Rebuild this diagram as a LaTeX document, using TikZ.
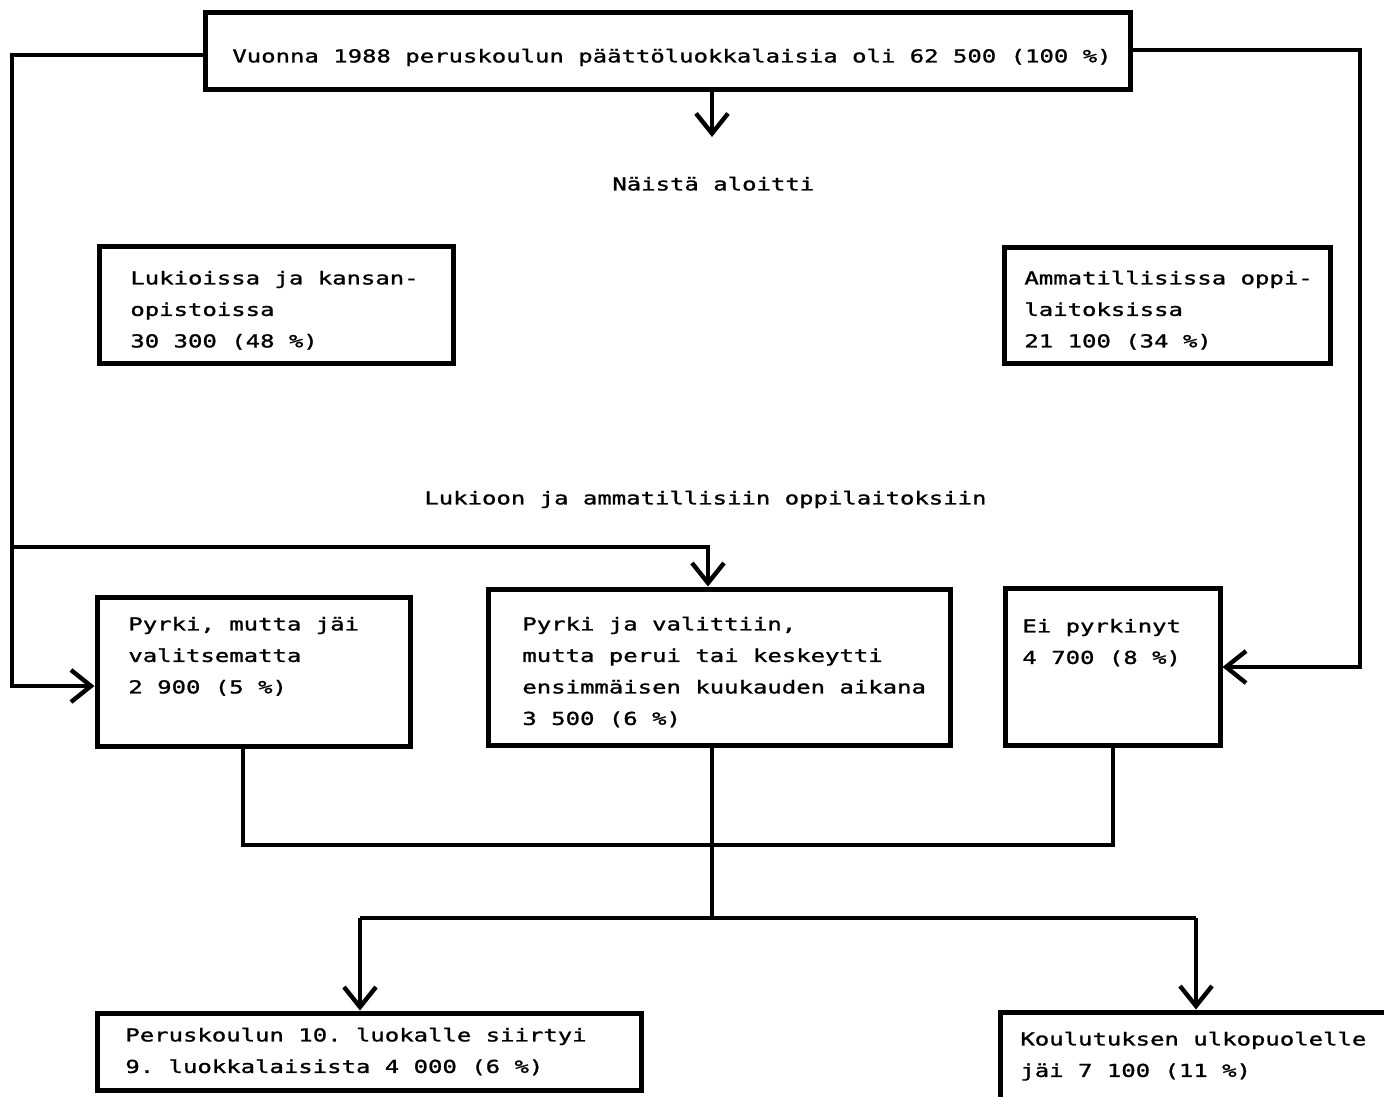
\documentclass[tikz,border=0pt]{standalone}
\usepackage{fontspec}
\usetikzlibrary{arrows.meta,fit,calc}
\newfontfamily\twfont{DejaVu Sans Mono}[FakeStretch=1.345,FakeBold=1.3]
\begin{document}
\frenchspacing
\begin{tikzpicture}[x=0.5pt,y=-0.5pt,
  boxn/.style={draw,line width=2.5pt,inner sep=0pt,rectangle},
  txt/.style={anchor=north west,inner sep=0pt,align=left,font=\twfont\frenchspacing\fontsize{8.9}{15.75}\selectfont},
  conn/.style={line width=2.2pt},
  arr/.style={-{Straight Barb[length=10pt,width=16pt]}}]
\useasboundingbox (0,0) rectangle (1384,1096);
\clip (0,0) rectangle (1384,1096);
\fill[white] (0,0) rectangle (1384,1096);
% boxes
\node[boxn,fit={(205,13)(1130,90)}] (top) {};
\node[boxn,fit={(99,247)(453,363)}] (lk) {};
\node[boxn,fit={(1004,248)(1330,363)}] (am) {};
\node[boxn,fit={(97,597)(410,746)}] (p1) {};
\node[boxn,fit={(488,589)(950,745)}] (p2) {};
\node[boxn,fit={(1005,588)(1220,745)}] (p3) {};
\node[boxn,fit={(97,1013)(641,1090)}] (b1) {};
\node[boxn,fit={(1000,1012)(1420,1130)}] (b2) {};
% texts
\node[txt] (topt) at (232,38) {\rule{0pt}{12pt}Vuonna 1988 peruskoulun päättöluokkalaisia oli 62 500 (100 \%)};
\node[txt] (nd) at (612,166) {\rule{0pt}{12pt}Näistä aloitti};
\node[txt] (lkt) at (130,260) {\rule{0pt}{12pt}Lukioissa ja kansan-\\opistoissa\\30 300 (48 \%)};
\node[txt] (amt) at (1024,260) {\rule{0pt}{12pt}Ammatillisissa oppi-\\laitoksissa\\21 100 (34 \%)};
\node[txt] (mid) at (424,480) {\rule{0pt}{12pt}Lukioon ja ammatillisiin oppilaitoksiin};
\node[txt] (p1t) at (128,606) {\rule{0pt}{12pt}Pyrki, mutta jäi\\valitsematta\\2 900 (5 \%)};
\node[txt] (p2t) at (522,606) {\rule{0pt}{12pt}Pyrki ja valittiin,\\mutta perui tai keskeytti\\ensimmäisen kuukauden aikana\\3 500 (6 \%)};
\node[txt] (p3t) at (1022,608) {\rule{0pt}{12pt}Ei pyrkinyt\\4 700 (8 \%)};
\node[txt] (b1t) at (125,1017) {\rule{0pt}{12pt}Peruskoulun 10. luokalle siirtyi\\9. luokkalaisista 4 000 (6 \%)};
\node[txt] (b2t) at (1020,1021) {\rule{0pt}{12pt}Koulutuksen ulkopuolelle\\jäi 7 100 (11 \%)};
% coordinates
\coordinate (tl) at (12,55);
\coordinate (ta) at (12,686);
\coordinate (tb) at (12,547);
\coordinate (tc) at (708,547);
\coordinate (tr) at (1360,50);
\coordinate (tra) at (1360,667);
\coordinate (tdn) at (712,137);
\coordinate (jl) at (243,845);
\coordinate (jr) at (1113,845);
\coordinate (jm) at (712,845);
\coordinate (jb) at (712,918);
\coordinate (bl) at (360,918);
\coordinate (br) at (1196,918);
% connectors
\draw[conn,arr] (top.west |- tl) -| (ta) -- (ta -| p1.west);
\draw[conn,arr] (tb) -| (p2.north -| tc);
\draw[conn,arr] (top.east |- tr) -| (tra) -- (tra -| p3.east);
\draw[conn,arr] (top.south -| tdn) -- (tdn);
\draw[conn] (p1.south -| jl) -- (jl) -- (jr) -- (p3.south -| jr);
\draw[conn] (p2.south -| jm) -- (jb);
\draw[conn] (bl) -- (br);
\draw[conn,arr] (bl) -- (b1.north -| bl);
\draw[conn,arr] (br) -- (b2.north -| br);
\end{tikzpicture}
\end{document}
